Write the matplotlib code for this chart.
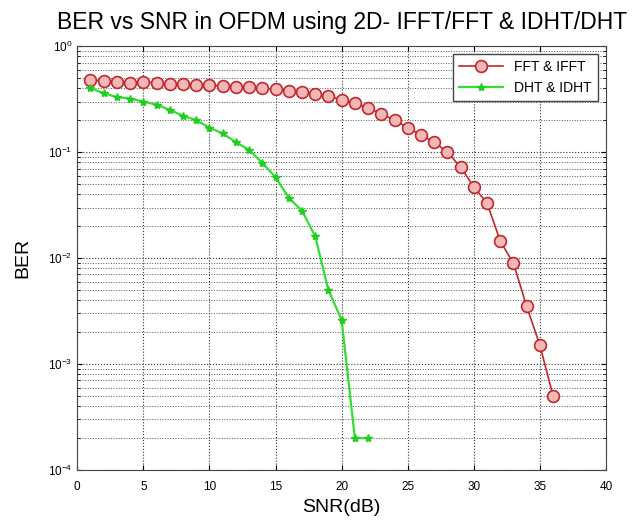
import numpy as np
import matplotlib
matplotlib.use("Agg")
import matplotlib.pyplot as plt
from matplotlib.ticker import LogLocator, MultipleLocator

plt.rcParams['font.family'] = ['Liberation Sans', 'DejaVu Sans']

# SNR axis (dB)
snr_fft = list(range(1, 37))
snr_dht = list(range(1, 23))

# BER
ber_fft = [0.48, 0.47, 0.46, 0.45, 0.46, 0.45, 0.44, 0.44, 0.43, 0.43,
           0.42, 0.41, 0.41, 0.40, 0.39, 0.38, 0.37, 0.35, 0.34, 0.31,
           0.29, 0.26, 0.23, 0.20, 0.17, 0.145, 0.124, 0.10, 0.072, 0.047,
           0.033, 0.0145, 0.0089, 0.0035, 0.0015, 0.0005]
ber_dht = [0.40, 0.36, 0.33, 0.32, 0.30, 0.28, 0.25, 0.22, 0.20, 0.17,
           0.15, 0.124, 0.105, 0.079, 0.058, 0.037, 0.028, 0.016, 0.005, 0.0026,
           0.0002, 0.0002]

fig = plt.figure(figsize=(6.44, 5.24), dpi=100)
ax = fig.add_axes([0.12, 0.103, 0.821, 0.809])

ax.semilogy(snr_fft, ber_fft, '-o', color='#c0282d', lw=1.2, ms=8.5,
            mfc='#f2b8b8', mec='#c0282d', mew=1.2, label='FFT & IFFT')
ax.semilogy(snr_dht, ber_dht, '-*', color='#33dd33', lw=1.6, ms=6,
            mfc='#22cc22', mec='#22cc22', label='DHT & IDHT')

ax.set_xlim(0, 40)
ax.set_ylim(1e-4, 1)
ax.xaxis.set_major_locator(MultipleLocator(5))
ax.yaxis.set_major_locator(LogLocator(base=10, numticks=10))
ax.yaxis.set_minor_locator(LogLocator(base=10, subs=np.arange(2, 10), numticks=10))

ax.grid(True, which='major', ls=':', color='#333333', lw=0.8)
ax.grid(True, which='minor', axis='y', ls=':', color='#555555', lw=0.7)
ax.tick_params(which='both', direction='in', labelsize=8.5, top=True, right=True)
ax.tick_params(axis='x', pad=8)
for s in ax.spines.values():
    s.set_color('#444444')

ax.set_title('BER vs SNR in OFDM using 2D- IFFT/FFT & IDHT/DHT', fontsize=16.5, pad=12)
ax.set_xlabel('SNR(dB)', fontsize=14, labelpad=4)
ax.set_ylabel('BER', fontsize=14, labelpad=12)

leg = ax.legend(loc='upper right', fontsize=10, fancybox=False, handlelength=3.2,
                edgecolor='#444444', framealpha=1, borderaxespad=0.6)

fig.savefig('out.png', dpi=100)
